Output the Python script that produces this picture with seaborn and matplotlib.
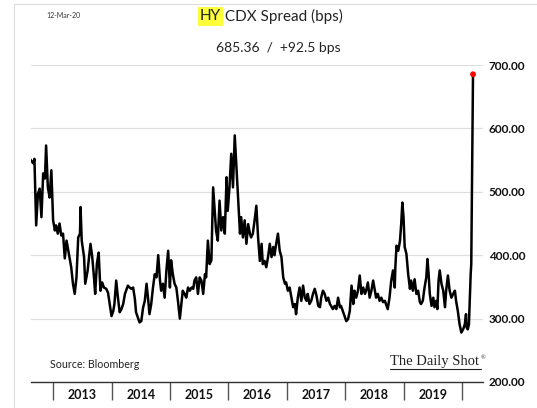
import matplotlib
matplotlib.use("Agg")
import matplotlib.pyplot as plt
import seaborn as sns
import pandas as pd
from matplotlib.lines import Line2D

# ---- data (decimal year positions, spread in bps) ----
year_pos = [
    2012.60, 2012.66, 2012.68, 2012.71, 2012.74, 2012.77, 2012.80, 2012.83, 2012.86, 2012.88,
    2012.91, 2012.94, 2012.97, 2013.00, 2013.03, 2013.05, 2013.08, 2013.11, 2013.14, 2013.17,
    2013.20, 2013.23, 2013.26, 2013.28, 2013.31, 2013.34, 2013.37, 2013.40, 2013.43, 2013.46,
    2013.47, 2013.49, 2013.53, 2013.55, 2013.59, 2013.61, 2013.64, 2013.67, 2013.70, 2013.72,
    2013.75, 2013.78, 2013.81, 2013.84, 2013.87, 2013.91, 2013.94, 2013.97, 2014.00, 2014.03,
    2014.05, 2014.08, 2014.11, 2014.14, 2014.17, 2014.20, 2014.23, 2014.25, 2014.28, 2014.31,
    2014.34, 2014.37, 2014.40, 2014.42, 2014.45, 2014.48, 2014.51,
    2014.54, 2014.57, 2014.60, 2014.63, 2014.65, 2014.68, 2014.71, 2014.74, 2014.77, 2014.80,
    2014.83, 2014.85, 2014.88, 2014.91, 2014.94, 2014.97, 2015.00, 2015.02, 2015.05, 2015.08,
    2015.11, 2015.14, 2015.17, 2015.20, 2015.22, 2015.25, 2015.28, 2015.31, 2015.34, 2015.37,
    2015.40, 2015.42, 2015.45, 2015.48, 2015.51, 2015.54, 2015.57, 2015.60, 2015.62, 2015.65,
    2015.68, 2015.71, 2015.74, 2015.77, 2015.79, 2015.82, 2015.85, 2015.88, 2015.91, 2015.94,
    2015.97, 2015.99, 2016.02, 2016.05, 2016.08, 2016.11, 2016.14, 2016.17, 2016.20, 2016.22,
    2016.25, 2016.28, 2016.31, 2016.34, 2016.37, 2016.39,
    2016.42, 2016.45, 2016.48, 2016.51, 2016.54, 2016.57, 2016.59, 2016.62, 2016.65, 2016.68,
    2016.71, 2016.74, 2016.77, 2016.79, 2016.82, 2016.85, 2016.88, 2016.91, 2016.94, 2016.97,
    2016.99, 2017.02, 2017.05, 2017.08, 2017.11, 2017.14, 2017.16, 2017.19, 2017.22, 2017.25,
    2017.28, 2017.31, 2017.34, 2017.36, 2017.39, 2017.42, 2017.45, 2017.48, 2017.51, 2017.54,
    2017.57, 2017.59, 2017.62, 2017.65, 2017.68, 2017.71, 2017.74, 2017.76, 2017.79, 2017.82,
    2017.85, 2017.88, 2017.91, 2017.93, 2017.96, 2017.99, 2018.02, 2018.05, 2018.08, 2018.11,
    2018.14, 2018.16, 2018.19, 2018.22, 2018.25, 2018.28, 2018.31,
    2018.34, 2018.36, 2018.39, 2018.42, 2018.45, 2018.48, 2018.51, 2018.53, 2018.56, 2018.59,
    2018.62, 2018.65, 2018.68, 2018.71, 2018.73, 2018.76, 2018.79, 2018.82, 2018.85, 2018.86,
    2018.88, 2018.91, 2018.94, 2018.96, 2018.98, 2019.00, 2019.02, 2019.05, 2019.08, 2019.11,
    2019.13, 2019.16, 2019.19, 2019.22, 2019.25, 2019.28, 2019.30, 2019.33, 2019.36, 2019.39,
    2019.41, 2019.43, 2019.45, 2019.48, 2019.51, 2019.53, 2019.56, 2019.58, 2019.60, 2019.62,
    2019.65, 2019.68, 2019.71, 2019.73, 2019.76, 2019.79, 2019.82, 2019.85, 2019.88, 2019.90,
    2019.93, 2019.96, 2019.99, 2020.02, 2020.05, 2020.07, 2020.08, 2020.10, 2020.12, 2020.14,
    2020.15, 2020.16, 2020.19,
]
spread = [
    552, 545, 552, 447, 497, 505, 460, 529, 521, 573,
    507, 491, 534, 455, 439, 447, 434, 450, 431, 434,
    395, 423, 407, 397, 381, 355, 339, 365, 428, 434,
    476, 423, 397, 355, 375, 392, 418, 397, 365, 339,
    387, 404, 344, 357, 349, 347, 341, 323, 304, 312,
    323, 360, 333, 310, 315, 323, 339, 344, 352, 349,
    347, 349, 331, 310, 302, 294, 296,
    317, 328, 355, 328, 307, 323, 349, 370, 365, 400,
    360, 344, 355, 333, 376, 407, 349, 392, 370, 355,
    349, 326, 300, 326, 344, 339, 333, 349, 344, 349,
    347, 360, 365, 339, 365, 360, 339, 370, 365, 423,
    386, 392, 507, 465, 439, 423, 486, 439, 460, 434,
    523, 470, 507, 560, 507, 589, 539, 486, 434, 460,
    428, 455, 418, 449, 434, 428,
    434, 455, 478, 428, 391, 418, 386, 391, 381, 397,
    418, 397, 413, 400, 418, 434, 407, 397, 365, 355,
    357, 344, 349, 333, 318, 323, 307, 333, 349, 328,
    352, 333, 328, 339, 323, 328, 339, 347, 336, 320,
    318, 333, 344, 339, 328, 333, 323, 320, 315, 320,
    315, 333, 318, 320, 312, 304, 296, 299, 312, 352,
    323, 344, 333, 344, 368, 339, 349,
    339, 344, 357, 333, 344, 360, 344, 333, 339, 328,
    333, 326, 328, 320, 315, 333, 360, 376, 349, 381,
    415, 407, 423, 449, 483, 460, 413, 402, 370, 347,
    360, 344, 362, 339, 344, 326, 323, 328, 349, 365,
    394, 370, 339, 320, 333, 318, 328, 315, 360, 376,
    355, 344, 318, 344, 368, 344, 333, 339, 344, 328,
    312, 291, 278, 283, 291, 307, 286, 283, 291, 344,
    370, 386, 685.36,
]
last_value = 685.36
change_bps = 92.5
year_bounds = [2013, 2014, 2015, 2016, 2017, 2018, 2019, 2020]
year_labels = ["2013", "2014", "2015", "2016", "2017", "2018", "2019"]
y_ticks = [200, 300, 400, 500, 600, 700]

W, H = 537, 408

sns.set_style("white")
plt.rcParams['font.family'] = ['Lato', 'DejaVu Sans']

fig = plt.figure(figsize=(W / 100, H / 100), dpi=100)
ax = fig.add_axes([30.8 / W, 1 - 382 / H, (483 - 30.8) / W, (382 - 65) / H])

df = pd.DataFrame({"t": year_pos, "v": spread})
sns.lineplot(data=df, x="t", y="v", ax=ax, color="black", linewidth=1.8)
ax.scatter([year_pos[-1]], [spread[-1]], color="#ff0000", s=18, zorder=5,
           clip_on=False, edgecolors="none")

ax.set_xlim(2012.618, 2020.361)
ax.set_ylim(200, 700)
ax.set_xlabel("")
ax.set_ylabel("")

# grid
ax.set_axisbelow(True)
ax.yaxis.grid(True, color="#dedede", linewidth=0.9)
ax.xaxis.grid(False)
for s in ["top", "left", "right"]:
    ax.spines[s].set_visible(False)
ax.spines["bottom"].set_color("#333333")
ax.spines["bottom"].set_linewidth(1.0)

# y ticks right
ax.yaxis.tick_right()
ax.set_yticks(y_ticks)
ax.set_yticklabels([f"{v:.2f}" for v in y_ticks], fontweight="bold", fontsize=8.5)
ax.tick_params(axis="y", length=0, pad=4, labelcolor="#111111")

# x ticks: boundaries as major, labels at mid-year as minor
ax.set_xticks(year_bounds)
ax.set_xticklabels([""] * len(year_bounds))
ax.set_xticks([y + 0.5 for y in year_bounds[:-1]], minor=True)
ax.set_xticklabels(year_labels, minor=True, fontweight="bold", fontsize=9)
ax.tick_params(axis="x", which="both", bottom=True)
ax.tick_params(axis="x", which="major", length=13, width=1.0, color="#555555", direction="out")
ax.tick_params(axis="x", which="minor", length=0, pad=5, labelcolor="#111111")

# titles
t1 = fig.text(200 / W, 1 - 16.4 / H, "HY", fontsize=11, va="center", ha="left",
              color="#222222",
              bbox=dict(facecolor="#ffff3c", edgecolor="none", pad=1.5))
ax.annotate(" CDX Spread (bps)", xy=(1, 0.5), xycoords=t1, va="center", ha="left",
            fontsize=11, color="#222222", annotation_clip=False)
fig.text(278 / W, 1 - 48 / H, f"{last_value:.2f}  /  +{change_bps} bps", fontsize=10,
         ha="center", va="center", color="#222222")
fig.text(46 / W, 1 - 16 / H, "12-Mar-20", fontsize=5, ha="left", va="center", color="#333333")
fig.text(49.6 / W, 1 - 364 / H, "Source: Bloomberg", fontsize=7.7, ha="left", va="center",
         color="#222222")
fig.text(390 / W, 1 - 362 / H, "The Daily Shot", fontsize=10.5, ha="left", va="center",
         family=["Liberation Serif", "DejaVu Serif"], color="#222222")
fig.text(481 / W, 1 - 358 / H, "®", fontsize=4.5, ha="left", va="center",
         family=["Liberation Serif", "DejaVu Serif"], color="#222222")
fig.add_artist(Line2D([390 / W, 481 / W], [1 - 369.3 / H, 1 - 369.3 / H],
                      color="#222222", linewidth=0.8))

# faint frame at the left and top
fig.add_artist(Line2D([14 / W, 14 / W], [0, 1 - 4 / H], color="#dddddd", linewidth=0.8))
fig.add_artist(Line2D([14 / W, 1], [1 - 4 / H, 1 - 4 / H], color="#dddddd", linewidth=0.8))

fig.savefig("out.png", dpi=100)
